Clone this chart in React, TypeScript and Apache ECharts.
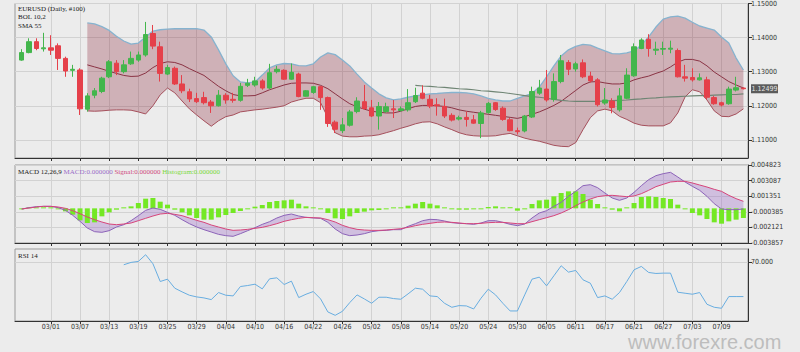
import React, { useEffect, useRef } from "react";
import * as echarts from "echarts";

const dates = [
  "02/25","02/26","02/27","02/28",
  "03/01","03/04","03/05","03/06","03/07","03/08","03/11","03/12","03/13","03/14","03/15","03/18","03/19","03/20","03/21","03/22","03/25","03/26","03/27","03/28","03/29",
  "04/01","04/02","04/03","04/04","04/05","04/08","04/09","04/10","04/11","04/12","04/15","04/16","04/17","04/18","04/19","04/22","04/23","04/24","04/25","04/26","04/29","04/30",
  "05/01","05/02","05/03","05/06","05/07","05/08","05/09","05/10","05/13","05/14","05/15","05/16","05/17","05/20","05/21","05/22","05/23","05/24","05/27","05/28","05/29","05/30","05/31",
  "06/03","06/04","06/05","06/06","06/07","06/10","06/11","06/12","06/13","06/14","06/17","06/18","06/19","06/20","06/21","06/24","06/25","06/26","06/27","06/28",
  "07/01","07/02","07/03","07/04","07/05","07/08","07/09","07/10","07/11","07/12"
];

const dateTicks = ["03/01","03/07","03/13","03/19","03/25","03/29","04/04","04/10","04/16","04/22","04/26","05/02","05/08","05/14","05/20","05/24","05/30","06/05","06/11","06/17","06/21","06/27","07/03","07/09"];

const open = [
  1.1334,1.1356,1.1388,1.1367,1.1370,1.1376,1.1339,1.1304,1.1305,1.1190,
  1.1231,1.1242,1.1285,1.1325,1.1300,1.1323,1.1334,1.1349,1.1412,1.1373,
  1.1293,1.1310,1.1264,1.1241,1.1221,1.1224,1.1211,1.1200,1.1231,1.1219,
  1.1216,1.1260,1.1261,1.1273,1.1252,1.1300,1.1304,1.1278,1.1293,1.1228,
  1.1239,1.1256,1.1224,1.1152,1.1127,1.1143,1.1183,1.1212,1.1194,1.1170,
  1.1183,1.1191,1.1186,1.1188,1.1212,1.1237,1.1219,1.1203,1.1198,1.1172,
  1.1161,1.1166,1.1159,1.1148,1.1180,1.1209,1.1193,1.1159,1.1127,1.1126,
  1.1167,1.1237,1.1249,1.1219,1.1271,1.1327,1.1308,1.1326,1.1287,1.1276,
  1.1208,1.1214,1.1188,1.1222,1.1288,1.1368,1.1395,1.1363,1.1366,1.1366,
  1.1362,1.1285,1.1283,1.1276,1.1276,1.1224,1.1209,1.1206,1.1246,1.1252
];
const close = [
  1.1356,1.1388,1.1368,1.1370,1.1363,1.1339,1.1302,1.1307,1.1191,1.1229,
  1.1244,1.1281,1.1329,1.1300,1.1320,1.1339,1.1349,1.1409,1.1375,1.1295,
  1.1312,1.1264,1.1244,1.1220,1.1212,1.1209,1.1200,1.1231,1.1217,1.1216,
  1.1257,1.1266,1.1273,1.1252,1.1297,1.1307,1.1278,1.1298,1.1227,1.1244,
  1.1256,1.1224,1.1148,1.1131,1.1144,1.1182,1.1214,1.1192,1.1170,1.1198,
  1.1197,1.1188,1.1191,1.1209,1.1230,1.1222,1.1199,1.1200,1.1170,1.1158,
  1.1165,1.1160,1.1149,1.1179,1.1207,1.1189,1.1160,1.1127,1.1124,1.1170,
  1.1242,1.1252,1.1217,1.1271,1.1332,1.1307,1.1323,1.1285,1.1273,1.1203,
  1.1217,1.1195,1.1229,1.1290,1.1373,1.1393,1.1368,1.1366,1.1368,1.1369,
  1.1285,1.1281,1.1276,1.1282,1.1225,1.1206,1.1202,1.1249,1.1253,1.12499
];
const low = [
  1.1332,1.1354,1.1363,1.1359,1.1349,1.1305,1.1285,1.1285,1.1173,1.1183,
  1.1222,1.1237,1.1281,1.1290,1.1295,1.1320,1.1329,1.1344,1.1366,1.1271,
  1.1290,1.1261,1.1237,1.1211,1.1208,1.1204,1.1179,1.1198,1.1206,1.1209,
  1.1212,1.1255,1.1256,1.1247,1.1249,1.1295,1.1276,1.1276,1.1225,1.1227,
  1.1235,1.1188,1.1138,1.1120,1.1120,1.1139,1.1178,1.1188,1.1167,1.1130,
  1.1179,1.1164,1.1183,1.1183,1.1208,1.1219,1.1193,1.1171,1.1164,1.1154,
  1.1157,1.1139,1.1147,1.1105,1.1177,1.1185,1.1156,1.1125,1.1116,1.1122,
  1.1164,1.1232,1.1212,1.1212,1.1266,1.1290,1.1300,1.1281,1.1268,1.1198,
  1.1203,1.1178,1.1183,1.1219,1.1285,1.1366,1.1344,1.1349,1.1349,1.1354,
  1.1283,1.1271,1.1271,1.1274,1.1219,1.1203,1.1198,1.1203,1.1242,1.1248
];
const high = [
  1.1366,1.1398,1.1398,1.1414,1.1407,1.1383,1.1344,1.1320,1.1310,1.1237,
  1.1252,1.1285,1.1334,1.1334,1.1334,1.1359,1.1359,1.1446,1.1437,1.1388,
  1.1320,1.1315,1.1290,1.1250,1.1238,1.1241,1.1217,1.1246,1.1237,1.1238,
  1.1267,1.1279,1.1285,1.1278,1.1323,1.1317,1.1307,1.1324,1.1297,1.1246,
  1.1258,1.1258,1.1227,1.1157,1.1164,1.1188,1.1225,1.1261,1.1217,1.1211,
  1.1209,1.1217,1.1198,1.1249,1.1253,1.1260,1.1232,1.1222,1.1221,1.1178,
  1.1171,1.1183,1.1173,1.1185,1.1211,1.1211,1.1198,1.1164,1.1136,1.1173,
  1.1256,1.1276,1.1305,1.1295,1.1349,1.1334,1.1329,1.1336,1.1300,1.1281,
  1.1252,1.1222,1.1252,1.1310,1.1383,1.1398,1.1410,1.1388,1.1388,1.1391,
  1.1368,1.1320,1.1310,1.1295,1.1285,1.1229,1.1212,1.1256,1.1285,1.1254
];

const BOL_START = 9;
const bolUpper = [
  1.1443,1.1440,1.1432,1.1421,1.1404,1.1390,1.1381,1.1384,1.1402,1.1419,
  1.1423,1.1425,1.1426,1.1426,1.1426,1.1426,1.1422,1.1402,1.1364,1.1323,
  1.1288,1.1270,1.1267,1.1270,1.1290,1.1311,1.1320,1.1324,1.1323,1.1318,
  1.1317,1.1323,1.1343,1.1355,1.1350,1.1334,1.1317,1.1293,1.1270,1.1252,
  1.1235,1.1223,1.1217,1.1220,1.1225,1.1229,1.1232,1.1235,1.1236,1.1238,
  1.1239,1.1239,1.1238,1.1235,1.1229,1.1222,1.1217,1.1214,1.1214,1.1222,
  1.1229,1.1236,1.1255,1.1285,1.1317,1.1346,1.1364,1.1374,1.1380,1.1378,
  1.1369,1.1361,1.1353,1.1352,1.1355,1.1361,1.1378,1.1402,1.1431,1.1454,
  1.1461,1.1463,1.1457,1.1445,1.1434,1.1428,1.1422,1.1402,1.1384,1.1340,
  1.1305
];
const bolMid = [
  1.1320,1.1314,1.1308,1.1301,1.1295,1.1289,1.1286,1.1287,1.1296,1.1312,
  1.1324,1.1329,1.1327,1.1320,1.1309,1.1299,1.1289,1.1273,1.1257,1.1244,
  1.1233,1.1229,1.1229,1.1230,1.1238,1.1247,1.1254,1.1261,1.1266,1.1267,
  1.1267,1.1266,1.1260,1.1250,1.1235,1.1220,1.1206,1.1197,1.1190,1.1184,
  1.1181,1.1179,1.1179,1.1184,1.1191,1.1198,1.1201,1.1201,1.1200,1.1198,
  1.1194,1.1188,1.1184,1.1181,1.1178,1.1175,1.1172,1.1169,1.1166,1.1163,
  1.1168,1.1175,1.1182,1.1191,1.1201,1.1213,1.1229,1.1245,1.1261,1.1270,
  1.1271,1.1267,1.1264,1.1264,1.1267,1.1276,1.1282,1.1287,1.1295,1.1302,
  1.1314,1.1328,1.1336,1.1336,1.1331,1.1317,1.1299,1.1285,1.1271,1.1261,
  1.1252
];
const bolLower = [
  1.1185,1.1184,1.1185,1.1187,1.1188,1.1188,1.1187,1.1182,1.1176,1.1200,
  1.1232,1.1252,1.1238,1.1214,1.1191,1.1173,1.1156,1.1140,1.1156,1.1168,
  1.1173,1.1182,1.1185,1.1188,1.1190,1.1193,1.1196,1.1200,1.1211,1.1217,
  1.1222,1.1222,1.1209,1.1165,1.1121,1.1111,1.1109,1.1109,1.1111,1.1112,
  1.1115,1.1121,1.1127,1.1134,1.1140,1.1147,1.1152,1.1153,1.1147,1.1138,
  1.1130,1.1121,1.1115,1.1112,1.1111,1.1111,1.1112,1.1116,1.1119,1.1112,
  1.1105,1.1100,1.1096,1.1090,1.1084,1.1081,1.1080,1.1092,1.1130,1.1165,
  1.1185,1.1190,1.1185,1.1169,1.1160,1.1149,1.1143,1.1141,1.1141,1.1141,
  1.1150,1.1179,1.1226,1.1247,1.1241,1.1217,1.1185,1.1169,1.1168,1.1176,
  1.1191
];

const SMA_START = 54;
const sma55 = [
  1.1260,1.1258,1.1257,1.1255,1.1254,1.1252,1.1250,1.1249,1.1247,1.1244,
  1.1243,1.1241,1.1239,1.1236,1.1233,1.1230,1.1227,1.1225,1.1222,1.1219,
  1.1216,1.1214,1.1213,1.1213,1.1213,1.1213,1.1214,1.1215,1.1216,1.1217,
  1.1219,1.1220,1.1222,1.1223,1.1225,1.1226,1.1227,1.1228,1.1229,1.1230,
  1.1230,1.1231,1.1232,1.1233,1.1233,1.1235
];

const macdLine = [
  -0.000074,0.000074,0.000186,0.000223,0.000223,0.000074,-0.000223,-0.000779,-0.001447,-0.002189,
  -0.002597,-0.002671,-0.002486,-0.002078,-0.001818,-0.001373,-0.000816,-0.000223,0.000037,-0.000111,
  -0.000445,-0.000779,-0.001261,-0.001707,-0.002078,-0.002374,-0.002634,-0.002894,-0.003042,-0.003116,
  -0.002820,-0.002486,-0.002152,-0.001781,-0.001484,-0.001076,-0.000779,-0.000631,-0.000853,-0.001002,
  -0.001076,-0.001113,-0.001558,-0.002300,-0.002820,-0.003042,-0.002968,-0.002820,-0.002597,-0.002486,
  -0.002449,-0.002374,-0.002374,-0.002003,-0.001707,-0.001373,-0.001224,-0.001261,-0.001410,-0.001595,
  -0.001670,-0.001707,-0.001781,-0.001632,-0.001373,-0.001373,-0.001558,-0.001781,-0.001929,-0.001744,
  -0.001076,-0.000519,-0.000260,0.000223,0.000668,0.001336,0.001892,0.002523,0.002634,0.002300,
  0.001707,0.001150,0.000890,0.001150,0.001781,0.002523,0.003191,0.003636,0.003858,0.004007,
  0.003487,0.002931,0.002449,0.002003,0.001336,0.000519,-0.000074,-0.000148,-0.000148,-0.000074
];
const signalLine = [
  -0.000074,0.000037,0.000148,0.000223,0.000223,0.000148,0.000000,-0.000260,-0.000594,-0.000965,
  -0.001261,-0.001521,-0.001744,-0.001818,-0.001744,-0.001632,-0.001373,-0.001113,-0.000853,-0.000631,
  -0.000557,-0.000668,-0.000816,-0.001076,-0.001336,-0.001558,-0.001855,-0.002078,-0.002300,-0.002449,
  -0.002412,-0.002337,-0.002226,-0.002115,-0.001929,-0.001707,-0.001447,-0.001261,-0.001113,-0.001002,
  -0.001039,-0.001076,-0.001261,-0.001521,-0.001892,-0.002152,-0.002337,-0.002412,-0.002449,-0.002449,
  -0.002412,-0.002337,-0.002263,-0.002115,-0.001929,-0.001781,-0.001670,-0.001558,-0.001521,-0.001558,
  -0.001632,-0.001707,-0.001707,-0.001670,-0.001595,-0.001558,-0.001558,-0.001632,-0.001707,-0.001707,
  -0.001484,-0.001261,-0.001039,-0.000816,-0.000519,-0.000148,0.000297,0.000705,0.001039,0.001299,
  0.001410,0.001447,0.001373,0.001299,0.001373,0.001632,0.002003,0.002412,0.002671,0.002931,
  0.003005,0.003005,0.002820,0.002597,0.002374,0.002115,0.001892,0.001447,0.001076,0.000779
];
const histogram = [
  -0.000037,0.000037,0.000037,0.000037,0.000000,-0.000037,-0.000334,-0.000705,-0.001336,-0.001632,
  -0.001558,-0.000890,-0.000445,-0.000148,0.000000,0.000223,0.000594,0.001076,0.001150,0.000742,
  0.000408,-0.000148,-0.000445,-0.000779,-0.001076,-0.001261,-0.001261,-0.001002,-0.000742,-0.000519,
  -0.000297,-0.000074,0.000186,0.000371,0.000705,0.000816,0.000890,0.000965,0.000519,0.000223,
  0.000037,-0.000037,-0.000519,-0.001113,-0.001187,-0.000890,-0.000519,-0.000371,-0.000223,-0.000186,
  -0.000074,0.000000,0.000111,0.000297,0.000519,0.000705,0.000519,0.000334,0.000037,-0.000074,
  -0.000148,-0.000148,-0.000111,-0.000074,0.000148,0.000223,0.000111,0.000000,-0.000260,-0.000037,
  0.000482,0.000890,0.000965,0.001336,0.001707,0.001892,0.001892,0.001595,0.000965,0.000482,
  0.000000,-0.000148,-0.000334,0.000000,0.000594,0.001261,0.001336,0.001261,0.001150,0.001039,
  0.000408,-0.000037,-0.000519,-0.000779,-0.001187,-0.001558,-0.001707,-0.001447,-0.001261,-0.001076
];

const RSI_START = 14;
const rsi14 = [
  67.96,69.75,70.51,75.63,68.72,55.17,56.96,50.06,47.25,44.69,
  43.41,42.64,41.36,46.73,44.69,44.18,51.34,52.10,53.13,49.55,
  57.22,57.98,52.87,55.43,42.90,45.45,47.50,41.87,31.90,29.34,
  32.41,39.06,44.94,41.87,38.55,43.15,43.15,42.13,41.62,45.71,
  50.06,49.29,44.18,43.66,38.55,35.48,36.76,36.51,34.20,42.39,
  49.29,44.94,38.55,32.67,32.67,44.94,56.96,58.50,51.85,59.52,
  67.19,62.33,63.61,56.45,53.89,42.90,44.18,41.62,46.73,55.17,
  64.12,66.68,62.08,61.31,61.56,61.56,46.99,46.22,45.45,46.73,
  37.78,35.48,34.72,43.66,43.66,43.66
];

const priceTicks = [1.11, 1.12, 1.13, 1.14, 1.15];
const macdTicks = [0.004823, 0.003087, 0.001351, -0.000385, -0.002121, -0.003857];
const rsiTicks = [70];

const AX_FONT = '"Liberation Sans Narrow", "DejaVu Sans Condensed", "Liberation Sans", sans-serif';
const LBL_FONT = '"Liberation Serif", serif';

export default function App() {
  const ref = useRef<HTMLDivElement>(null);

  useEffect(() => {
    const el = ref.current as HTMLDivElement;
    const chart = echarts.init(el, null, { renderer: "svg" });

    const tickIdx = dateTicks.map((d) => dates.indexOf(d));
    const pairs = (start: number, arr: number[]) => arr.map((v, k) => [start + k, v]);
    const candles = dates.map((_, i) => [i, open[i], close[i], low[i], high[i]]);

    const gridStyle = { show: true, borderColor: "#9a9a9a", borderWidth: 1, backgroundColor: "transparent" };
    const xAxisOf = (gi: number, showLabel: boolean) => ({
      type: "value",
      gridIndex: gi,
      min: -0.92,
      max: 99.63,
      position: "bottom",
      axisLine: { show: true, onZero: false, lineStyle: { color: "#333", width: 1 } },
      axisTick: { show: true, customValues: tickIdx, length: 3, lineStyle: { color: "#333" } },
      axisLabel: {
        show: showLabel,
        customValues: tickIdx,
        formatter: (v: number) => dates[Math.round(v)] || "",
        fontSize: 7,
        fontFamily: AX_FONT,
        color: "#333",
        margin: 2,
      },
      splitLine: { show: true, customValues: tickIdx, lineStyle: { color: "#d2d2d2", width: 1 } },
    });
    const yAxisOf = (gi: number, min: number, max: number, ticks: number[], digits: number) => ({
      type: "value",
      gridIndex: gi,
      position: "right",
      min,
      max,
      scale: true,
      axisLine: { show: true, onZero: false, lineStyle: { color: "#333", width: 1 } },
      axisTick: { show: true, customValues: ticks, length: 4, lineStyle: { color: "#333" } },
      axisLabel: {
        customValues: ticks,
        formatter: (v: number) => v.toFixed(digits),
        fontSize: 7,
        fontFamily: AX_FONT,
        color: "#333",
        margin: 3,
      },
      splitLine: { show: true, lineStyle: { color: "#d2d2d2", width: 1 } },
    });

    const line = (name: string, xi: number, data: any[], color: string, width = 1) => ({
      name,
      type: "line",
      xAxisIndex: xi,
      yAxisIndex: xi,
      data,
      showSymbol: false,
      symbol: "none",
      lineStyle: { color, width },
    });

    // Filled region between two series, drawn through the axes' own scales (api.coord)
    const bandFill = (name: string, xi: number, topPts: number[][], botPts: number[][], fill: string) => ({
      name,
      type: "custom",
      coordinateSystem: "cartesian2d",
      xAxisIndex: xi,
      yAxisIndex: xi,
      silent: true,
      data: [topPts[0]],
      renderItem: (_p: any, api: any) => {
        const pts = topPts
          .map((p) => api.coord(p))
          .concat(botPts.slice().reverse().map((p) => api.coord(p)));
        return { type: "polygon", shape: { points: pts }, style: { fill } };
      },
    });

    const option: any = {
      animation: false,
      backgroundColor: "#ececec",
      grid: [
        { left: 15, width: 733, top: 3, height: 155, ...gridStyle },
        { left: 15, width: 733, top: 165, height: 78, ...gridStyle },
        { left: 15, width: 733, top: 249, height: 72, ...gridStyle },
      ],
      xAxis: [xAxisOf(0, false), xAxisOf(1, false), xAxisOf(2, true)],
      yAxis: [
        yAxisOf(0, 1.10468, 1.15, priceTicks, 5),
        yAxisOf(1, -0.003857, 0.004823, macdTicks, 6),
        yAxisOf(2, 25, 80, rsiTicks, 3),
      ],
      series: [
        bandFill("bolFill", 0, pairs(BOL_START, bolUpper), pairs(BOL_START, bolLower), "rgba(140, 40, 60, 0.30)"),
        line("bolUpper", 0, pairs(BOL_START, bolUpper), "#86b3cf", 1.3),
        line("bolLower", 0, pairs(BOL_START, bolLower), "#a5505c", 1),
        line("bolMid", 0, pairs(BOL_START, bolMid), "#8a3344", 1),
        line("sma55", 0, pairs(SMA_START, sma55), "#6f8574", 1.2),
        {
          name: "EURUSD",
          type: "candlestick",
          xAxisIndex: 0,
          yAxisIndex: 0,
          data: candles,
          encode: { x: 0, y: [1, 2, 3, 4] },
          barWidth: 5,
          z: 5,
          itemStyle: {
            color: "#43b64c",
            color0: "#e5404a",
            borderColor: "#43b64c",
            borderColor0: "#e5404a",
            borderWidth: 1,
          },
        },
        bandFill("macdFill", 1, pairs(0, macdLine), pairs(0, signalLine), "rgba(150, 95, 195, 0.32)"),
        {
          name: "Histogram",
          type: "bar",
          xAxisIndex: 1,
          yAxisIndex: 1,
          data: pairs(0, histogram),
          barWidth: 5,
          barMinHeight: 1,
          itemStyle: { color: "#74e824" },
        },
        line("MACD", 1, pairs(0, macdLine), "#8c63b8", 1),
        line("Signal", 1, pairs(0, signalLine), "#d6457a", 1),
        line("RSI", 2, pairs(RSI_START, rsi14), "#68ade0", 1),
      ],
    };

    chart.setOption(option);

    const lastClose = close[close.length - 1];
    const py = chart.convertToPixel({ yAxisIndex: 0 } as any, lastClose) as number;

    chart.setOption({
      graphic: [
        { id: "t1", type: "text", x: 18, y: 8.5, style: { text: "EURUSD (Daily, #100)", fill: "#1a1a1a", font: `7px ${LBL_FONT}`, verticalAlign: "middle" } },
        { id: "t2", type: "text", x: 18, y: 17.3, style: { text: "BOL 10,2", fill: "#1a1a1a", font: `7px ${LBL_FONT}`, verticalAlign: "middle" } },
        { id: "t3", type: "text", x: 18, y: 26, style: { text: "SMA 55", fill: "#1a1a1a", font: `7px ${LBL_FONT}`, verticalAlign: "middle" } },
        {
          id: "t4",
          type: "text",
          x: 18,
          y: 171.7,
          style: {
            text: "{k|MACD 12,26,9} {m|MACD:0.000000} {s|Signal:0.000000} {h|Histogram:0.000000}",
            font: `7px ${LBL_FONT}`,
            verticalAlign: "middle",
            rich: {
              k: { fill: "#1a1a1a", font: `7px ${LBL_FONT}` },
              m: { fill: "#9a6cc8", font: `7px ${LBL_FONT}` },
              s: { fill: "#cf4a7c", font: `7px ${LBL_FONT}` },
              h: { fill: "#7ad93a", font: `7px ${LBL_FONT}` },
            },
          },
        },
        { id: "t5", type: "text", x: 18, y: 255.7, style: { text: "RSI 14", fill: "#1a1a1a", font: `7px ${LBL_FONT}`, verticalAlign: "middle" } },
        { id: "pbox", type: "rect", shape: { x: 751, y: py - 4.5, width: 27, height: 9 }, style: { fill: "#5b5b5b" }, z: 10 },
        {
          id: "ptext",
          type: "text",
          x: 764.5,
          y: py,
          z: 11,
          style: { text: lastClose.toFixed(5), fill: "#e6e6e6", font: `7px ${AX_FONT}`, align: "center", verticalAlign: "middle" },
        },
        {
          id: "wm",
          type: "text",
          x: 628,
          y: 341.5,
          style: { text: "www.forexre.com", fill: "#bdbdbd", font: `20px "Liberation Sans", Arial, sans-serif`, verticalAlign: "middle" },
        },
      ],
    });

    return () => {
      chart.dispose();
    };
  }, []);

  return <div ref={ref} style={{ position: "absolute", left: 0, top: 0, width: 800, height: 352 }} />;
}
